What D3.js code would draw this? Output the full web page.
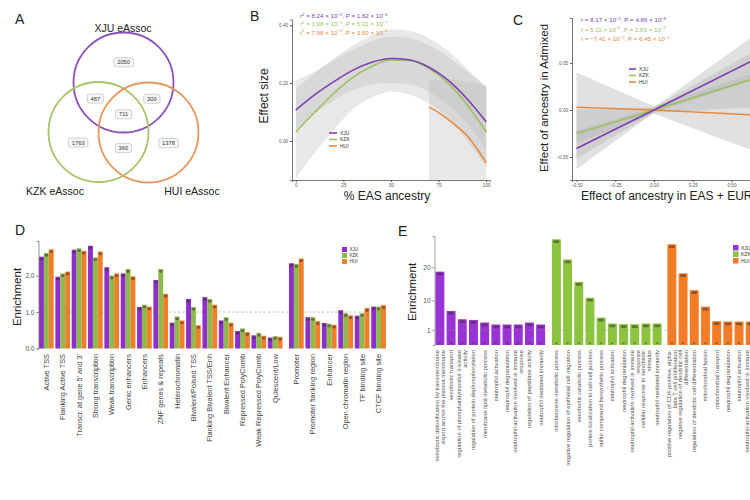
<!DOCTYPE html>
<html><head><meta charset="utf-8">
<script src="https://cdn.jsdelivr.net/npm/d3@7"></script>
<style>body{margin:0;background:#fff}svg{display:block}</style>
</head><body>
<script>
// ---------------- DATA ----------------
const seriesNames = ["XJU", "KZK", "HUI"];

// Panel A: Venn counts
const vennSetLabels = ["XJU eAssoc", "KZK eAssoc", "HUI eAssoc"];
const vennRegions = [[0], [1], [2], [0, 1], [0, 2], [0, 1, 2], [1, 2]];
const vennCounts = [2050, 1763, 1378, 487, 300, 711, 360];

// Panel B: quadratic fits of effect size vs % EAS ancestry
const bX = [0, 10, 20, 30, 40, 50, 60, 70, 80, 90, 100];
const bXJU = [0.107, 0.160, 0.205, 0.245, 0.272, 0.285, 0.280, 0.255, 0.210, 0.145, 0.066];
const bKZK = [0.031, 0.100, 0.165, 0.220, 0.258, 0.280, 0.278, 0.250, 0.200, 0.125, 0.031];
const bXJUhi = [0.180, 0.235, 0.285, 0.330, 0.365, 0.385, 0.380, 0.355, 0.310, 0.250, 0.185];
const bXJUlo = [0.040, 0.095, 0.140, 0.175, 0.195, 0.200, 0.195, 0.170, 0.125, 0.060, -0.030];
const bKZKhi = [0.210, 0.240, 0.280, 0.315, 0.345, 0.360, 0.355, 0.330, 0.290, 0.240, 0.190];
const bKZKlo = [-0.130, -0.040, 0.040, 0.110, 0.150, 0.170, 0.160, 0.130, 0.080, 0.000, -0.090];
const bHUIx = [70, 75, 80, 85, 90, 95, 100];
const bHUI = [0.117, 0.098, 0.075, 0.048, 0.018, -0.025, -0.076];
const bHUIhi = [0.210, 0.212, 0.214, 0.210, 0.205, 0.198, 0.190];
const bHUIlo = [-0.135, -0.135, -0.135, -0.135, -0.135, -0.135, -0.135];
const bYTicks = [0.0, 0.2, 0.4];
const bXTicks = [0, 25, 50, 75, 100];
const bStats = [
  ["r", "2", " = 8.24 \u00d7 10", "\u22122", ", P = 1.62 \u00d7 10", "\u22126"],
  ["r", "2", " = 1.08 \u00d7 10", "\u22121", ", P = 5.21 \u00d7 10", "\u22127"],
  ["r", "2", " = 7.98 \u00d7 10", "\u22122", ", P = 3.60 \u00d7 10", "\u22124"]
];

// Panel C: linear fits
const cX = [-0.5, 0, 0.75];
const cXJU = [-0.041, 0, 0.062];
const cKZK = [-0.025, 0, 0.039];
const cHUI = [0.003, 0, -0.006];
const cXJUhi = [-0.022, 0.003, 0.092];
const cXJUlo = [-0.063, -0.003, 0.038];
const cKZKhi = [0.000, 0.003, 0.072];
const cKZKlo = [-0.052, -0.003, 0.004];
const cHUIhi = [0.040, 0.004, 0.045];
const cHUIlo = [-0.035, -0.004, -0.050];
const cXTicks = [-0.5, -0.25, 0, 0.25, 0.5, 0.75];
const cYTicks = [-0.05, 0, 0.05];
const cStats = [
  ["r = 8.17 \u00d7 10", "\u22122", ", P = 4.86 \u00d7 10", "\u22128"],
  ["r = 5.11 \u00d7 10", "\u22122", ", P = 2.83 \u00d7 10", "\u22123"],
  ["r = \u22127.41 \u00d7 10", "\u22123", ", P = 6.45 \u00d7 10", "\u22121"]
];

// Panel D: chromatin state enrichment
const dLeftCats = ["Active TSS", "Flanking Active TSS", "Transcr. at gene 5' and 3'", "Strong transcription",
  "Weak transcription", "Genic enhancers", "Enhancers", "ZNF genes & repeats", "Heterochromatin",
  "Bivalent/Poised TSS", "Flanking Bivalent TSS/Enh", "Bivalent Enhancer", "Repressed PolyComb",
  "Weak Repressed PolyComb", "Quiescent/Low"];
const dRightCats = ["Promoter", "Promoter flanking region", "Enhancer", "Open chromatin region",
  "TF binding site", "CTCF binding site"];
const dXJU = [2.52, 1.97, 2.71, 2.82, 2.23, 2.06, 1.14, 1.88, 0.71, 1.36, 1.41, 0.77, 0.48, 0.36, 0.30,
  2.34, 0.86, 0.70, 1.05, 0.90, 1.15];
const dKZK = [2.62, 2.06, 2.75, 2.50, 2.00, 2.18, 1.20, 2.18, 0.88, 1.14, 1.36, 0.86, 0.55, 0.43, 0.34,
  2.32, 0.86, 0.68, 0.97, 0.97, 1.15];
const dHUI = [2.72, 2.11, 2.68, 2.66, 2.06, 1.98, 1.15, 1.50, 0.77, 0.64, 1.20, 0.71, 0.45, 0.35, 0.32,
  2.47, 0.75, 0.65, 0.91, 1.11, 1.19];
const dYTicks = [0, 1, 2];

// Panel E: GO term enrichment
const eXJUterms = ["xenobiotic detoxification by transmembrane|export across the plasma membrane",
  "xenobiotic transport", "regulation of phosphatidylinositol 3-kinase|activity",
  "regulation of protein dephosphorylation", "membrane lipid metabolic process", "neutrophil activation",
  "neutrophil degranulation", "neutrophil activation involved in immune|response",
  "regulation of peptidase activity", "neutrophil mediated immunity"];
const eKZKterms = ["nitrobenzene metabolic process", "negative regulation of epithelial cell migration",
  "xenobiotic catabolic process", "protein localization to cell-cell junction",
  "sulfur compound biosynthetic process", "neutrophil activation", "neutrophil degranulation",
  "neutrophil activation involved in immune|response", "cellular response to xenobiotic|stimulus",
  "neutrophil mediated immunity"];
const eHUIterms = ["positive regulation of CD4-positive, alpha-|beta T cell proliferation",
  "negative regulation of dendritic cell|differentiation", "regulation of dendritic cell differentiation",
  "mitochondrial fusion", "mitochondrial transport", "neutrophil degranulation", "neutrophil activation",
  "neutrophil activation involved in immune|response", "neutrophil mediated immunity",
  "regulation of leukocyte degranulation"];
const eXJU = [18.7, 6.8, 4.3, 4.1, 3.3, 2.7, 2.7, 2.7, 3.3, 2.7];
const eKZK = [28.5, 22.4, 15.6, 10.8, 4.8, 3.0, 2.8, 2.8, 3.0, 3.0];
const eHUI = [27.0, 18.2, 13.1, 8.1, 3.7, 3.6, 3.6, 3.6, 3.5, 3.5];
const eYTicks = [1, 10, 20];

// ---------------- STYLE ----------------
const lineCol = ["#7d3fae", "#9dc05f", "#e88a3e"];
const vennCol = ["#8c52b8", "#a9c46c", "#e8975c"];
const barCol = ["#8e2fcc", "#8dba4a", "#ef7f2a"];
const eCol = ["#9933d6", "#8cc43e", "#f47c26"];
const FONT = "'Liberation Sans', Arial, sans-serif";

const svg = d3.select("body").append("svg").attr("width", 750).attr("height", 500)
  .style("font-family", FONT);
svg.append("rect").attr("width", 750).attr("height", 500).attr("fill", "#fff");

function panelLetter(t, x, y) {
  svg.append("text").attr("x", x).attr("y", y).text(t).attr("font-size", 14).attr("fill", "#222");
}

// ---------------- PANEL A ----------------
(function () {
  const g = svg.append("g");
  panelLetter("A", 15, 24);
  const circ = [{ cx: 123.5, cy: 82.5 }, { cx: 98.5, cy: 132 }, { cx: 148.5, cy: 132.5 }];
  const r = 50;
  g.selectAll("circle").data(circ).join("circle")
    .attr("cx", d => d.cx).attr("cy", d => d.cy).attr("r", r)
    .attr("fill", "none").attr("stroke", (d, i) => vennCol[i]).attr("stroke-width", 1.8);
  // label position: centroid of each region (sampled on a grid)
  function regionPos(inc) {
    let sx = 0, sy = 0, n = 0;
    for (let x = 40; x <= 205; x += 1) for (let y = 25; y <= 190; y += 1) {
      let ok = true;
      circ.forEach((c, i) => {
        const inside = Math.hypot(x - c.cx, y - c.cy) < r;
        if (inside !== inc.includes(i)) ok = false;
      });
      if (ok) { sx += x; sy += y; n++; }
    }
    return [sx / n, sy / n];
  }
  vennRegions.forEach((reg, k) => {
    const p = regionPos(reg);
    const txt = String(vennCounts[k]);
    const w = txt.length * 3.4 + 6;
    g.append("rect").attr("x", p[0] - w / 2).attr("y", p[1] - 4.5).attr("width", w).attr("height", 9)
      .attr("rx", 2).attr("fill", "#f7f7f7").attr("stroke", "#b5b5b5").attr("stroke-width", 0.6);
    g.append("text").attr("x", p[0]).attr("y", p[1] + 2).attr("text-anchor", "middle")
      .attr("font-size", 5.8).attr("fill", "#333").text(txt);
  });
  const labPos = [[123, 32], [55, 195], [192, 195]];
  vennSetLabels.forEach((t, i) => {
    g.append("text").attr("x", labPos[i][0]).attr("y", labPos[i][1]).attr("text-anchor", "middle")
      .attr("font-size", 10.5).attr("fill", "#222").text(t);
  });
})();

// ---------------- PANEL B ----------------
(function () {
  panelLetter("B", 250, 21);
  const x = d3.scaleLinear().domain([-2, 102]).range([292, 490]);
  const y = d3.scaleLinear().domain([-0.135, 0.42]).range([180, 19.5]);
  svg.append("clipPath").attr("id", "clipB").append("rect").attr("x", 292).attr("y", 19).attr("width", 198).attr("height", 161);
  const g = svg.append("g").attr("clip-path", "url(#clipB)");
  const area = d3.area().x(d => x(d[0])).y0(d => y(d[1])).y1(d => y(d[2])).curve(d3.curveMonotoneX);
  const bands = [
    bX.map((v, i) => [v, bKZKlo[i], bKZKhi[i]]),
    bX.map((v, i) => [v, bXJUlo[i], bXJUhi[i]]),
    bHUIx.map((v, i) => [v, bHUIlo[i], bHUIhi[i]])
  ];
  bands.forEach(b => g.append("path").datum(b).attr("d", area)
    .attr("fill", "#b9b9b9").attr("opacity", 0.33));
  const line = d3.line().x(d => x(d[0])).y(d => y(d[1])).curve(d3.curveMonotoneX);
  const fits = [bX.map((v, i) => [v, bXJU[i]]), bX.map((v, i) => [v, bKZK[i]]), bHUIx.map((v, i) => [v, bHUI[i]])];
  [1, 0, 2].forEach(k => g.append("path").datum(fits[k]).attr("d", line).attr("fill", "none")
    .attr("stroke", lineCol[k]).attr("stroke-width", 1.6));
  const ax = svg.append("g").attr("transform", "translate(0,180)")
    .call(d3.axisBottom(x).tickValues(bXTicks).tickSize(2).tickPadding(1.5));
  const ay = svg.append("g").attr("transform", "translate(292,0)")
    .call(d3.axisLeft(y).tickValues(bYTicks).tickFormat(d3.format(".2f")).tickSize(2).tickPadding(2));
  [ax, ay].forEach(a => {
    a.select(".domain").attr("stroke", "#555").attr("stroke-width", 0.8);
    a.selectAll(".tick line").attr("stroke", "#555");
    a.selectAll("text").attr("font-size", 4.6).attr("fill", "#555").attr("font-family", FONT);
  });
  svg.append("text").attr("x", 387).attr("y", 199.5).attr("text-anchor", "middle").attr("font-size", 12)
    .attr("fill", "#222").text("% EAS ancestry");
  svg.append("text").attr("transform", "translate(268,96) rotate(-90)").attr("text-anchor", "middle")
    .attr("font-size", 12).attr("fill", "#222").text("Effect size");
  bStats.forEach((s, i) => {
    const t = svg.append("text").attr("x", 300).attr("y", 18 + i * 8.3).attr("font-size", 6.2)
      .attr("fill", lineCol[i]).attr("font-style", "italic");
    t.append("tspan").text(s[0]);
    t.append("tspan").attr("dy", -2.2).attr("font-size", 4.2).text(s[1]);
    t.append("tspan").attr("dy", 2.2).attr("font-style", "normal").text(s[2]);
    t.append("tspan").attr("dy", -2.2).attr("font-size", 4.2).attr("font-style", "normal").text(s[3]);
    t.append("tspan").attr("dy", 2.2).attr("font-style", "normal").text(s[4]);
    t.append("tspan").attr("dy", -2.2).attr("font-size", 4.2).attr("font-style", "normal").text(s[5]);
  });
  seriesNames.forEach((n, i) => {
    const yy = 133 + i * 6.5;
    svg.append("line").attr("x1", 329).attr("x2", 337).attr("y1", yy).attr("y2", yy)
      .attr("stroke", lineCol[i]).attr("stroke-width", 1.6);
    svg.append("text").attr("x", 340).attr("y", yy + 1.8).attr("font-size", 5).attr("fill", "#333").text(n);
  });
})();

// ---------------- PANEL C ----------------
(function () {
  panelLetter("C", 513, 25);
  const x = d3.scaleLinear().domain([-0.529, 0.80]).range([572, 778]);
  const y = d3.scaleLinear().domain([-0.0745, 0.098]).range([180, 18]);
  svg.append("clipPath").attr("id", "clipC").append("rect").attr("x", 572).attr("y", 18).attr("width", 206).attr("height", 162);
  const g = svg.append("g").attr("clip-path", "url(#clipC)");
  const area = d3.area().x(d => x(d[0])).y0(d => y(d[1])).y1(d => y(d[2]));
  const bands = [
    cX.map((v, i) => [v, cHUIlo[i], cHUIhi[i]]),
    cX.map((v, i) => [v, cKZKlo[i], cKZKhi[i]]),
    cX.map((v, i) => [v, cXJUlo[i], cXJUhi[i]])
  ];
  bands.forEach(b => g.append("path").datum(b).attr("d", area).attr("fill", "#b5b5b5").attr("opacity", 0.4));
  const line = d3.line().x(d => x(d[0])).y(d => y(d[1]));
  const fits = [cXJU, cKZK, cHUI].map(arr => cX.map((v, i) => [v, arr[i]]));
  [2, 1, 0].forEach(k => g.append("path").datum(fits[k]).attr("d", line).attr("fill", "none")
    .attr("stroke", lineCol[k]).attr("stroke-width", 1.6));
  const ax = svg.append("g").attr("transform", "translate(0,180)")
    .call(d3.axisBottom(x).tickValues(cXTicks).tickFormat(d3.format(".2f")).tickSize(2).tickPadding(1.5));
  const ay = svg.append("g").attr("transform", "translate(572,0)")
    .call(d3.axisLeft(y).tickValues(cYTicks).tickFormat(d3.format(".2f")).tickSize(2).tickPadding(2));
  [ax, ay].forEach(a => {
    a.select(".domain").attr("stroke", "#555").attr("stroke-width", 0.8);
    a.selectAll(".tick line").attr("stroke", "#555");
    a.selectAll("text").attr("font-size", 4.6).attr("fill", "#555").attr("font-family", FONT);
  });
  svg.append("text").attr("x", 581).attr("y", 199.5).attr("font-size", 12).attr("fill", "#222")
    .text("Effect of ancestry in EAS + EUR");
  svg.append("text").attr("transform", "translate(548,98) rotate(-90)").attr("text-anchor", "middle")
    .attr("font-size", 11.5).attr("fill", "#222").text("Effect of ancestry in Admixed");
  cStats.forEach((s, i) => {
    const t = svg.append("text").attr("x", 581).attr("y", 22 + i * 9.5).attr("font-size", 6.2)
      .attr("fill", lineCol[i]);
    t.append("tspan").text(s[0]);
    t.append("tspan").attr("dy", -2.2).attr("font-size", 4.2).text(s[1]);
    t.append("tspan").attr("dy", 2.2).text(s[2]);
    t.append("tspan").attr("dy", -2.2).attr("font-size", 4.2).text(s[3]);
  });
  seriesNames.forEach((n, i) => {
    const yy = 69 + i * 6.5;
    svg.append("line").attr("x1", 629).attr("x2", 636).attr("y1", yy).attr("y2", yy)
      .attr("stroke", lineCol[i]).attr("stroke-width", 1.6);
    svg.append("text").attr("x", 639).attr("y", yy + 1.8).attr("font-size", 5).attr("fill", "#333").text(n);
  });
})();

// ---------------- PANEL D ----------------
(function () {
  panelLetter("D", 15, 235);
  const y = d3.scaleLinear().domain([0, 2.95]).range([348.5, 241]);
  const xL = d3.scaleBand().domain(dLeftCats).range([38.5, 283]).paddingInner(0.1).paddingOuter(0.03);
  const xR = d3.scaleBand().domain(dRightCats).range([288.5, 386.5]).paddingInner(0.1).paddingOuter(0.03);
  const xOf = c => dLeftCats.includes(c) ? xL(c) : xR(c);
  const bw = xL.bandwidth();
  const inner = d3.scaleBand().domain(seriesNames).range([0, bw]);
  const cats = dLeftCats.concat(dRightCats);
  svg.append("line").attr("x1", 38.5).attr("x2", 386.5).attr("y1", y(1)).attr("y2", y(1))
    .attr("stroke", "#aaa").attr("stroke-width", 0.7).attr("stroke-dasharray", "2.5,2");
  const vals = [dXJU, dKZK, dHUI];
  const g = svg.append("g");
  cats.forEach((c, ci) => {
    seriesNames.forEach((s, si) => {
      const v = vals[si][ci];
      g.append("rect").attr("x", xOf(c) + inner(s)).attr("width", inner.bandwidth())
        .attr("y", y(v)).attr("height", y(0) - y(v)).attr("fill", barCol[si]);
      g.append("rect").attr("x", xOf(c) + inner(s) + 0.8).attr("width", inner.bandwidth() - 1.6)
        .attr("y", y(v) + 1).attr("height", 2.6).attr("fill", "#3a2a2a").attr("opacity", 0.55).attr("rx", 0.8);
    });
    g.append("text").attr("transform", `translate(${xOf(c) + bw / 2 + 2.5},${354}) rotate(-90)`)
      .attr("text-anchor", "end").attr("font-size", 7.4).attr("fill", "#444").text(c);
  });
  const ay = svg.append("g").attr("transform", "translate(38.5,0)")
    .call(d3.axisLeft(y).tickValues(dYTicks).tickSize(2).tickPadding(2));
  ay.select(".domain").attr("stroke", "#777").attr("stroke-width", 0.8);
  ay.selectAll(".tick line").attr("stroke", "#777");
  ay.selectAll("text").attr("font-size", 6.5).attr("fill", "#555").attr("font-family", FONT);
  svg.append("text").attr("transform", "translate(21,297) rotate(-90)").attr("text-anchor", "middle")
    .attr("font-size", 11.5).attr("fill", "#222").text("Enrichment");
  seriesNames.forEach((n, i) => {
    svg.append("rect").attr("x", 342).attr("y", 247 + i * 6).attr("width", 5).attr("height", 5).attr("fill", barCol[i]);
    svg.append("text").attr("x", 349.5).attr("y", 251.3 + i * 6).attr("font-size", 4.6).attr("fill", "#333").text(n);
  });
})();

// ---------------- PANEL E ----------------
(function () {
  panelLetter("E", 398, 236);
  const y = d3.scaleLinear().domain([-3.5, 29.5]).range([345, 236]);
  const groups = [
    { terms: eXJUterms, vals: eXJU, range: [434.5, 546] },
    { terms: eKZKterms, vals: eKZK, range: [551, 662.5] },
    { terms: eHUIterms, vals: eHUI, range: [666.5, 778] }
  ];
  const g = svg.append("g");
  groups.forEach((gr, gi) => {
    const x = d3.scaleBand().domain(d3.range(gr.terms.length)).range(gr.range).paddingInner(0.2).paddingOuter(0.08);
    gr.vals.forEach((v, i) => {
      g.append("rect").attr("x", x(i)).attr("width", x.bandwidth()).attr("y", y(v))
        .attr("height", y(-3.5) - y(v)).attr("fill", eCol[gi]);
      g.append("rect").attr("x", x(i) + 1.5).attr("width", x.bandwidth() - 3).attr("y", y(v) + 1)
        .attr("height", 2.8).attr("fill", "#3a2a2a").attr("opacity", 0.5).attr("rx", 1);
      g.append("rect").attr("x", x(i) + x.bandwidth() / 2 - 1).attr("width", 2).attr("y", y(-3.5) - 2.5)
        .attr("height", 1.5).attr("fill", "#3a2a2a").attr("opacity", 0.5);
      const lines = gr.terms[i].split("|");
      const cx = x(i) + x.bandwidth() / 2;
      lines.forEach((ln, li) => {
        const off = (li - (lines.length - 1) / 2) * 5.8;
        g.append("text").attr("transform", `translate(${cx + 2 + off},${350}) rotate(-90)`)
          .attr("text-anchor", "end").attr("font-size", 5.8).attr("fill", "#555").text(ln);
      });
    });
  });
  svg.append("line").attr("x1", 434.5).attr("x2", 750).attr("y1", y(1)).attr("y2", y(1))
    .attr("stroke", "#999").attr("stroke-width", 0.6).attr("stroke-dasharray", "2.5,2").attr("opacity", 0.7);
  const ay = svg.append("g").attr("transform", "translate(434.5,0)")
    .call(d3.axisLeft(y).tickValues(eYTicks).tickSize(2).tickPadding(2));
  ay.select(".domain").attr("stroke", "#888").attr("stroke-width", 0.8);
  ay.selectAll(".tick line").attr("stroke", "#888");
  ay.selectAll("text").attr("font-size", 6.5).attr("fill", "#555").attr("font-family", FONT);
  svg.append("text").attr("transform", "translate(416,292) rotate(-90)").attr("text-anchor", "middle")
    .attr("font-size", 11.5).attr("fill", "#222").text("Enrichment");
  seriesNames.forEach((n, i) => {
    svg.append("rect").attr("x", 733).attr("y", 245 + i * 6.5).attr("width", 5.5).attr("height", 5.5).attr("fill", eCol[i]);
    svg.append("text").attr("x", 741).attr("y", 249.8 + i * 6.5).attr("font-size", 5).attr("fill", "#333").text(n);
  });
})();
</script>
</body></html>
